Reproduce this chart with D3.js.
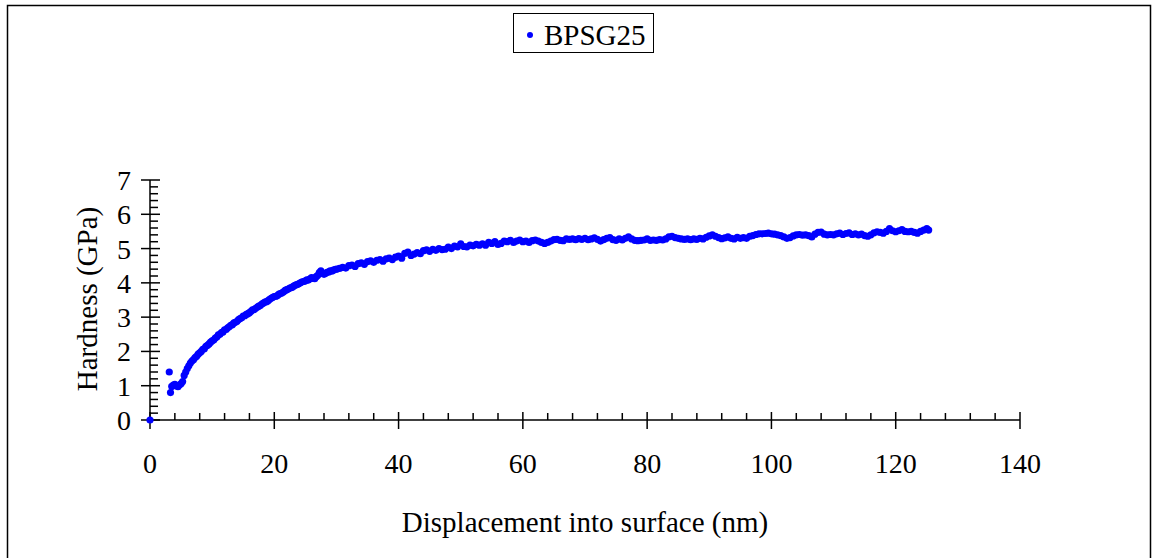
<!DOCTYPE html>
<html>
<head>
<meta charset="utf-8">
<script src="https://cdn.jsdelivr.net/npm/d3@7"></script>
<style>
  html, body { margin: 0; padding: 0; background: #fff; }
  svg { display: block; }
  text { font-family: "Liberation Serif", "Times New Roman", serif; fill: #000; }
</style>
</head>
<body>
<svg id="chart" width="1157" height="558"></svg>
<script>
// ---- data ----
const seriesName = "BPSG25";
const xTickValues = [0, 20, 40, 60, 80, 100, 120, 140];
const yTickValues = [0, 1, 2, 3, 4, 5, 6, 7];
const xLabel = "Displacement into surface (nm)";
const yLabel = "Hardness (GPa)";

const displacement = [
  0, 3.1, 3.3, 3.5, 3.75, 4.0, 4.25, 4.5, 4.75,
  5.0, 5.25, 5.5, 5.75, 6.0, 6.25, 6.5, 6.75, 7.0, 7.25, 7.5, 7.75, 8.0, 8.25, 8.5, 8.75,
  9.0, 9.25, 9.5, 9.75, 10.0, 10.25, 10.5, 10.75, 11.0, 11.25, 11.5, 11.75, 12.0, 12.25,
  12.5, 12.75, 13.0, 13.25, 13.5, 13.75, 14.0, 14.25, 14.5, 14.75, 15.0, 15.25, 15.5, 15.75,
  16.0, 16.25, 16.5, 16.75, 17.0, 17.25, 17.5, 17.75, 18.0, 18.25, 18.5, 18.75, 19.0, 19.25,
  19.5, 19.75, 20.0, 20.25, 20.5, 20.75, 21.0, 21.25, 21.5, 21.75, 22.0, 22.25, 22.5, 22.75,
  23.0, 23.25, 23.5, 23.75, 24.0, 24.25, 24.5, 24.75, 25.0, 25.25, 25.5, 25.75, 26.0, 26.25,
  26.5, 26.75, 27.0, 27.25, 27.5, 27.75, 28.0, 28.25, 28.5, 28.75, 29.0, 29.25, 29.5, 29.75,
  30.0, 30.5,
  31.0, 31.5, 32.0, 32.5, 33.0, 33.5, 34.0, 34.5, 35.0, 35.5, 36.0, 36.5, 37.0, 37.5,
  38.0, 38.5, 39.0, 39.5, 40.0, 40.5, 41.0, 41.5, 42.0, 42.5, 43.0, 43.5, 44.0, 44.5,
  45.0, 45.5, 46.0, 46.5, 47.0, 47.5, 48.0, 48.5, 49.0, 49.5, 50.0, 50.5, 51.0, 51.5,
  52.0, 52.5, 53.0, 53.5, 54.0, 54.5, 55.0, 55.5, 56.0, 56.5, 57.0, 57.5, 58.0, 58.5,
  59.0, 59.5, 60.0, 60.5, 61.0, 61.5, 62.0, 62.5, 63.0, 63.5, 64.0, 64.5, 65.0, 65.5,
  66.0, 66.5, 67.0, 67.5, 68.0, 68.5, 69.0, 69.5, 70.0, 70.5, 71.0, 71.5, 72.0, 72.5,
  73.0, 73.5, 74.0, 74.5, 75.0, 75.5, 76.0, 76.5, 77.0, 77.5, 78.0, 78.5, 79.0, 79.5,
  80.0, 80.5, 81.0, 81.5, 82.0, 82.5, 83.0, 83.5, 84.0, 84.5, 85.0, 85.5, 86.0, 86.5,
  87.0, 87.5, 88.0, 88.5, 89.0, 89.5, 90.0, 90.5, 91.0, 91.5, 92.0, 92.5, 93.0, 93.5,
  94.0, 94.5, 95.0, 95.5, 96.0, 96.5, 97.0, 97.5, 98.0, 98.5, 99.0, 99.5, 100.0, 100.5,
  101.0, 101.5, 102.0, 102.5, 103.0, 103.5, 104.0, 104.5, 105.0, 105.5, 106.0, 106.5,
  107.0, 107.5, 108.0, 108.5, 109.0, 109.5, 110.0, 110.5, 111.0, 111.5, 112.0, 112.5,
  113.0, 113.5, 114.0, 114.5, 115.0, 115.5, 116.0, 116.5, 117.0, 117.5, 118.0, 118.5,
  119.0, 119.5, 120.0, 120.5, 121.0, 121.5, 122.0, 122.5, 123.0, 123.5, 124.0, 124.5,
  125.0, 125.3
];

const hardness = [
  0, 1.40, 0.80, 0.98, 1.02, 1.04, 1.00, 0.97, 1.02,
  1.06, 1.12, 1.30, 1.40, 1.50, 1.58, 1.66, 1.72, 1.76, 1.82, 1.86, 1.92, 1.96, 2.00, 2.06, 2.08,
  2.15, 2.18, 2.22, 2.27, 2.31, 2.33, 2.39, 2.42, 2.48, 2.50, 2.55, 2.57, 2.63, 2.64,
  2.69, 2.72, 2.76, 2.78, 2.83, 2.85, 2.88, 2.93, 2.96, 2.98, 3.03, 3.04, 3.08, 3.10,
  3.13, 3.17, 3.21, 3.22, 3.26, 3.29, 3.32, 3.34, 3.38, 3.41, 3.44, 3.45, 3.48, 3.52,
  3.55, 3.58, 3.60, 3.61, 3.63, 3.67, 3.69, 3.71, 3.74, 3.78, 3.80, 3.82, 3.85, 3.86,
  3.89, 3.92, 3.94, 3.96, 3.98, 4.01, 4.03, 4.04, 4.06, 4.09, 4.08, 4.12, 4.15, 4.13,
  4.12, 4.18, 4.22, 4.30, 4.35, 4.28, 4.25, 4.28, 4.31, 4.32, 4.35, 4.34, 4.37, 4.39,
  4.40, 4.42,
  4.45, 4.43, 4.50, 4.52, 4.48, 4.56, 4.58, 4.54, 4.62, 4.64, 4.60, 4.66, 4.68, 4.63,
  4.70, 4.72, 4.68, 4.75, 4.78, 4.72, 4.86, 4.90, 4.80, 4.84, 4.88, 4.85, 4.94, 4.96,
  4.92, 4.98, 4.95, 5.00, 4.97, 4.98, 5.04, 5.00, 5.07, 5.05, 5.14, 5.06, 5.05, 5.10,
  5.08, 5.12, 5.10, 5.14, 5.10, 5.18, 5.15, 5.20, 5.12, 5.15, 5.22, 5.20, 5.24, 5.18,
  5.22, 5.25, 5.20, 5.22, 5.18, 5.23, 5.25, 5.22, 5.18, 5.15, 5.18, 5.22, 5.26, 5.27,
  5.24, 5.23, 5.28, 5.27, 5.28, 5.26, 5.29, 5.27, 5.30, 5.26, 5.28, 5.31, 5.27, 5.22,
  5.26, 5.30, 5.32, 5.26, 5.24, 5.28, 5.25, 5.30, 5.34, 5.28, 5.24, 5.23, 5.24, 5.25,
  5.28, 5.24, 5.25, 5.24, 5.26, 5.25, 5.28, 5.34, 5.36, 5.32, 5.30, 5.28, 5.27, 5.28,
  5.26, 5.28, 5.27, 5.30, 5.28, 5.33, 5.37, 5.40, 5.36, 5.32, 5.29, 5.31, 5.34, 5.30,
  5.28, 5.33, 5.30, 5.32, 5.30, 5.36, 5.38, 5.41, 5.43, 5.43, 5.44, 5.45, 5.43, 5.42,
  5.40, 5.38, 5.34, 5.30, 5.32, 5.37, 5.40, 5.41, 5.39, 5.40, 5.38, 5.34,
  5.42, 5.47, 5.48, 5.42, 5.40, 5.41, 5.40, 5.43, 5.45, 5.41, 5.44, 5.46,
  5.41, 5.43, 5.40, 5.42, 5.38, 5.36, 5.40, 5.46, 5.49, 5.47, 5.45, 5.50,
  5.58, 5.52, 5.49, 5.52, 5.55, 5.50, 5.49, 5.50, 5.47, 5.45, 5.50, 5.54,
  5.58, 5.54
];

const points = displacement.map((d, i) => ({ x: d, y: hardness[i] }));

// ---- drawing ----
const svg = d3.select("#chart");
const blue = "#0000FF";
const tickFont = 28;
const titleFont = 29;

// outer frame
svg.append("rect")
  .attr("x", 7.5).attr("y", 5.5)
  .attr("width", 1143).attr("height", 560)
  .attr("fill", "none").attr("stroke", "#000").attr("stroke-width", 1.5);

const x = d3.scaleLinear().domain([0, 140]).range([150, 1020]);
const y = d3.scaleLinear().domain([0, 7]).range([420, 180]);

const axisG = svg.append("g").attr("stroke", "#000").attr("stroke-width", 1.5);

axisG.append("line").attr("x1", x(0)).attr("x2", x(140)).attr("y1", y(0)).attr("y2", y(0));
axisG.append("line").attr("x1", x(0)).attr("x2", x(0)).attr("y1", y(0)).attr("y2", y(7));

const xMinor = d3.range(0, 141, 4).filter(v => v % 20 !== 0);
axisG.selectAll(".xminor").data(xMinor).enter().append("line")
  .attr("x1", d => x(d)).attr("x2", d => x(d))
  .attr("y1", y(0)).attr("y2", y(0) - 7);
axisG.selectAll(".xmajor").data(xTickValues).enter().append("line")
  .attr("x1", d => x(d)).attr("x2", d => x(d))
  .attr("y1", y(0) - 8).attr("y2", y(0) + 9);

const yMinor = d3.range(0, 35).filter(i => i % 5 !== 0).map(i => i / 5);
axisG.selectAll(".yminor").data(yMinor).enter().append("line")
  .attr("x1", x(0)).attr("x2", x(0) + 8)
  .attr("y1", d => y(d)).attr("y2", d => y(d));
axisG.selectAll(".ymajor").data(yTickValues).enter().append("line")
  .attr("x1", x(0) - 9).attr("x2", x(0) + 10)
  .attr("y1", d => y(d)).attr("y2", d => y(d));

svg.selectAll(".xlab").data(xTickValues).enter().append("text")
  .attr("x", d => x(d)).attr("y", 473)
  .attr("text-anchor", "middle").attr("font-size", tickFont)
  .text(d => d);
svg.selectAll(".ylab").data(yTickValues).enter().append("text")
  .attr("x", 131).attr("y", d => y(d) + 10)
  .attr("text-anchor", "end").attr("font-size", tickFont)
  .text(d => d);

svg.append("text")
  .attr("x", 585).attr("y", 532)
  .attr("text-anchor", "middle").attr("font-size", titleFont)
  .text(xLabel);
svg.append("text")
  .attr("transform", "translate(97,299) rotate(-90)")
  .attr("text-anchor", "middle").attr("font-size", titleFont)
  .text(yLabel);

svg.append("g").selectAll("circle").data(points).enter().append("circle")
  .attr("cx", d => x(d.x)).attr("cy", d => y(d.y))
  .attr("r", 3.6).attr("fill", blue);

const lg = svg.append("g");
lg.append("rect").attr("x", 513.5).attr("y", 13.5).attr("width", 140).attr("height", 39)
  .attr("fill", "#fff").attr("stroke", "#000").attr("stroke-width", 1);
lg.append("circle").attr("cx", 530).attr("cy", 35).attr("r", 3).attr("fill", blue);
lg.append("text").attr("x", 544).attr("y", 45).attr("font-size", titleFont).text(seriesName);
</script>
</body>
</html>
